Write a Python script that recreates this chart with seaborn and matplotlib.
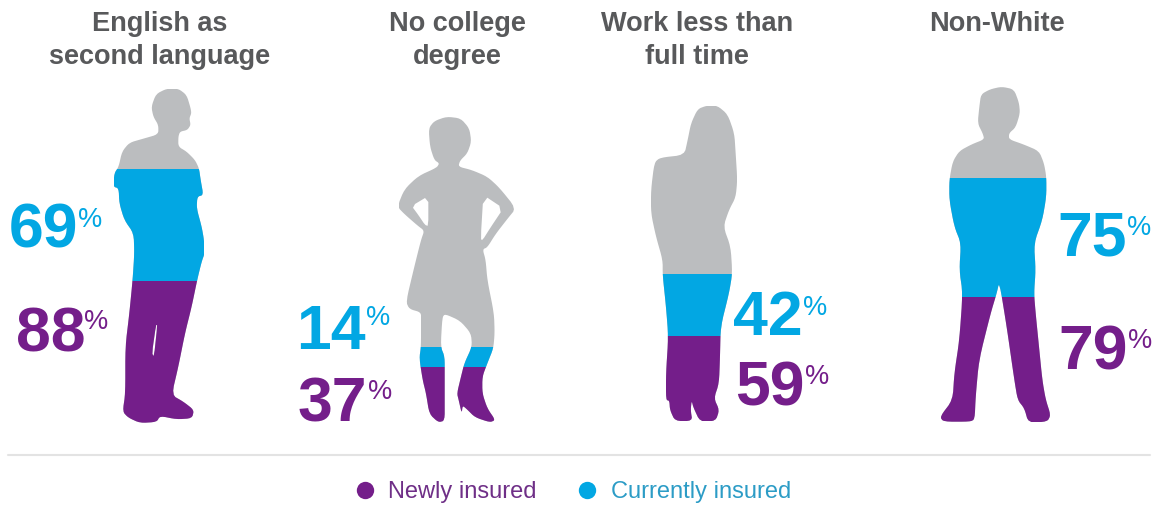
import matplotlib
matplotlib.use("Agg")
import matplotlib.pyplot as plt
from matplotlib.lines import Line2D
from matplotlib.patches import PathPatch
from matplotlib.path import Path
import numpy as np
import pandas as pd
import seaborn as sns

# Survey values
groups = ["English as\nsecond language", "No college\ndegree",
          "Work less than\nfull time", "Non-White"]
newly_insured = [88, 37, 59, 79]
currently_insured = [69, 14, 42, 75]
series_names = ["Newly insured", "Currently insured"]

PURPLE = "#741E8A"
BLUE = "#02A7E3"
GREY = "#BBBDBF"
HEADING = "#58595B"
W, H = 1159, 507

sns.set_theme(style="white")
plt.rcParams["font.family"] = ["Liberation Sans", "DejaVu Sans"]

# Figure outlines, traced on a 3x grid; each has an origin, optional holes and
# the span of the value axis running from the feet to the top of the head.
OUTLINES = [
    dict(origin=(0, 80), top=207, outer=[
        (500,26),(535,26),(560,45),(572,85),(574,100),(568,115),(572,135),(562,150),(540,155),
        (535,170),(535,200),(560,215),(585,240),(597,265),(602,300),(610,345),(592,350),(590,385),
        (605,440),(612,480),(614,520),(605,545),(592,598),(575,680),(555,760),(535,860),(515,945),
        (550,965),(582,990),(576,1015),(530,1018),(480,1008),(470,1026),(420,1029),(385,1013),
        (368,995),(376,940),(376,800),(388,700),(398,598),(403,520),(401,460),(373,420),(358,370),
        (356,325),(340,320),(343,280),(356,260),(366,215),(388,188),(430,176),(475,163),(475,135),
        (460,110),(454,80),(468,42)],
        holes=[[(468,735),(472,735),(462,830),(456,820)]]),
    dict(origin=(290, 100), top=207, outer=[
        (470,50),(512,55),(538,85),(544,125),(532,160),(510,182),(505,200),(545,210),(592,230),
        (628,263),(678,325),(652,357),(617,402),(592,442),(578,448),(587,480),(592,540),(612,640),
        (614,700),(610,745),(592,790),(577,830),(577,880),(592,925),(616,960),(600,967),(555,952),
        (530,927),(518,917),(515,940),(506,900),(501,880),(513,830),(523,790),(546,740),(543,700),
        (510,662),(465,642),(457,652),(452,740),(464,770),(464,830),(464,900),(464,962),(445,967),
        (418,942),(408,880),(398,840),(388,775),(393,740),(393,662),(393,637),(358,627),(348,605),
        (373,500),(393,420),(403,392),(383,377),(343,342),(322,320),(343,268),(385,228),(440,203),
        (448,190),(433,180),(420,140),(416,85),(433,63)],
        holes=[[(365,318),(415,288),(415,378),(405,375),(385,345)],
               [(580,285),(640,325),(600,385),(578,420),(572,418)]]),
    dict(origin=(600, 90), top=217, outer=[
        (320,47),(352,47),(383,73),(403,130),(407,190),(412,270),(407,322),(387,360),(370,410),
        (392,470),(397,550),(387,610),(362,710),(360,800),(357,880),(342,925),(358,960),(347,993),
        (300,995),(280,952),(275,932),(272,960),(277,993),(225,993),(210,960),(208,932),(198,930),
        (198,850),(205,740),(198,650),(188,555),(188,510),(168,440),(153,370),(153,300),(163,218),
        (180,203),(253,195),(263,150),(273,100),(293,57)],
        holes=[]),
    dict(origin=(900, 80), top=211, outer=[
        (305,20),(342,28),(357,68),(360,100),(347,142),(327,160),(327,178),(370,193),(417,213),
        (432,250),(439,290),(439,350),(427,420),(402,490),(407,570),(402,640),(407,700),(417,800),
        (427,900),(437,958),(452,1005),(442,1025),(385,1028),(373,985),(353,960),(343,900),
        (320,740),(298,605),(290,640),(272,700),(237,840),(227,950),(224,1018),(210,1025),(130,1025),
        (120,1010),(158,960),(163,880),(178,780),(188,640),(178,570),(183,490),(163,440),(148,360),
        (148,300),(158,245),(178,213),(215,193),(253,178),(248,160),(233,130),(238,80),(243,43),(270,28)],
        holes=[]),
]

# Heading centres in pixels
HEAD_X = [160, 457, 697, 997]
# Value labels: right edge of the digits, their baseline, left edge and baseline of the sign
NEW_LABEL = [(85, 351, 84, 329), (367, 422, 368, 399), (805, 406, 805, 384), (1128, 370, 1128, 348)]
CUR_LABEL = [(78, 247, 78, 227), (366, 349, 366, 325), (803, 335, 803, 315), (1127, 256, 1127, 235)]


def px(x, y):
    return x / W, 1 - y / H


def smooth(points, passes=2):
    # Corner cutting rounds the traced polygon into a softer contour
    pts = np.asarray(points, float)
    for _ in range(passes):
        nxt = np.roll(pts, -1, axis=0)
        pts = np.column_stack([0.8 * pts + 0.2 * nxt, 0.2 * pts + 0.8 * nxt]).reshape(-1, 2)
    return pts


def ring(points, clockwise):
    pts = np.asarray(points, float)
    area = 0.5 * np.sum(pts[:, 0] * np.roll(pts[:, 1], -1) - np.roll(pts[:, 0], -1) * pts[:, 1])
    if (area < 0) != clockwise:
        pts = pts[::-1]
    return pts


def compound_path(rings):
    verts, codes = [], []
    for r in rings:
        verts += list(map(tuple, r)) + [tuple(r[0])]
        codes += [Path.MOVETO] + [Path.LINETO] * (len(r) - 1) + [Path.CLOSEPOLY]
    return Path(verts, codes)


fig = plt.figure(figsize=(W / 100, H / 100), dpi=100, facecolor="white")

for i, shape in enumerate(OUTLINES):
    ox, oy = shape["origin"]
    outer = smooth(np.array(shape["outer"], float) / 3 + (ox, oy))
    x0, x1 = outer[:, 0].min(), outer[:, 0].max()
    y0, y1 = outer[:, 1].min(), outer[:, 1].max()
    ax = fig.add_axes([x0 / W, 1 - y1 / H, (x1 - x0) / W, (y1 - y0) / H])

    to_axis = lambda p: np.column_stack([
        (p[:, 0] - x0) / (x1 - x0) - 0.5,
        (y1 - p[:, 1]) / (y1 - y0) * shape["top"],
    ])
    rings = [ring(to_axis(outer), True)]
    for hole in shape["holes"]:
        rings.append(ring(to_axis(smooth(np.array(hole, float) / 3 + (ox, oy), 1)), False))
    body = PathPatch(compound_path(rings), facecolor=GREY, edgecolor="none", zorder=1)
    ax.add_patch(body)

    # Stacked bands, newly insured at the feet and currently insured above it
    row = pd.DataFrame({"group": [groups[i]], "new": [newly_insured[i]],
                        "current": [currently_insured[i]]})
    sns.barplot(data=row, x="group", y="new", color=PURPLE, width=1, saturation=1,
                linewidth=0, ax=ax, zorder=2)
    sns.barplot(data=row, x="group", y="current", bottom=row["new"].iloc[0], color=BLUE,
                width=1, saturation=1, linewidth=0, ax=ax, zorder=2)
    for bar in ax.patches:
        if bar is not body:
            bar.set_clip_path(body.get_path(), body.get_transform())
    ax.set_xlim(-0.5, 0.5)
    ax.set_ylim(0, shape["top"])
    ax.axis("off")

    # Group heading
    for line, base in zip(groups[i].split("\n"), (31, 64)):
        fig.text(*px(HEAD_X[i], base), line, ha="center", va="baseline", color=HEADING,
                 fontsize=19.5, fontweight="bold")

    # Value labels with a small raised percent sign
    for value, (rx, ly, sx, sy), colour in ((newly_insured[i], NEW_LABEL[i], PURPLE),
                                            (currently_insured[i], CUR_LABEL[i], BLUE)):
        fig.text(*px(rx, ly), str(value), ha="right", va="baseline", color=colour,
                 fontsize=45, fontweight="bold")
        fig.text(*px(sx, sy), "%", ha="left", va="baseline", color=colour, fontsize=19.5)

# Rule above the legend
fig.add_artist(Line2D([8 / W, 1150 / W], [1 - 455 / H] * 2, color="#E3E3E3", lw=1.5))

handles = [Line2D([], [], ls="", marker="o", ms=12.5, mfc=c, mec="none") for c in (PURPLE, BLUE)]
fig.legend(handles, series_names, ncol=2, frameon=False, loc="center", bbox_to_anchor=px(572, 492),
           prop={"size": 17}, labelcolor=["#6F2F87", "#2C9CC6"],
           handlelength=1.0, handletextpad=0.5, columnspacing=1.65)

fig.savefig("out.png", dpi=100, facecolor="white")
